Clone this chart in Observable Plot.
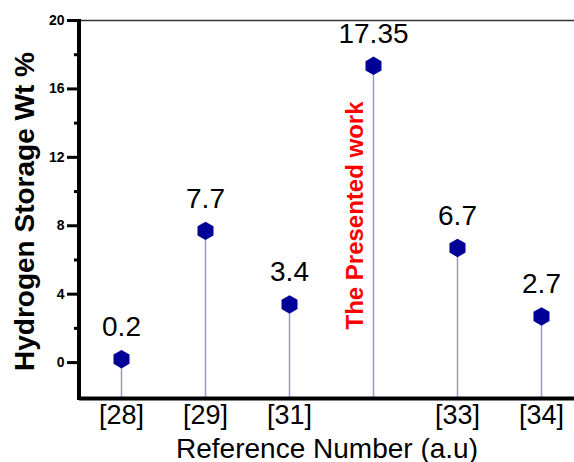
<!DOCTYPE html>
<html>
<head>
<meta charset="utf-8">
<script src="https://cdn.jsdelivr.net/npm/d3@7"></script>
<script src="https://cdn.jsdelivr.net/npm/@observablehq/plot@0.6"></script>
<style>
  html, body { margin: 0; padding: 0; background: #fff; overflow: hidden; }
  svg { display: block; }
</style>
</head>
<body>
<div id="chart"></div>
<script>
const categories = ["[28]", "[29]", "[31]", "Present", "[33]", "[34]"];
const values = [0.2, 7.7, 3.4, 17.35, 6.7, 2.7];
const valueLabels = ["0.2", "7.7", "3.4", "17.35", "6.7", "2.7"];
const xTickLabels = ["[28]", "[29]", "[31]", "[33]", "[34]"];
const yMajorTicks = [0, 4, 8, 12, 16, 20];
const yMinorTicks = [2, 6, 10, 14, 18];
const yDomain = [-2.1, 20];
const annotation = [{x: "Present", y: 8.6, text: "The Presented work"}];
const xTitle = "Reference Number (a.u)";
const yTitle = "Hydrogen Storage Wt %";

const data = categories.map((c, i) => ({cat: c, value: values[i], label: valueLabels[i]}));
const font = "Liberation Sans, Arial, Helvetica, sans-serif";

// left axis line drawn along the frame's left edge, using the plot's dimensions
function leftAxisLine(index, scales, values, dimensions) {
  const {marginLeft, marginTop, marginBottom, height} = dimensions;
  const line = document.createElementNS("http://www.w3.org/2000/svg", "line");
  line.setAttribute("x1", marginLeft);
  line.setAttribute("x2", marginLeft);
  line.setAttribute("y1", marginTop - 1);
  line.setAttribute("y2", height - marginBottom + 2);
  line.setAttribute("stroke", "#000");
  line.setAttribute("stroke-width", 4);
  return line;
}

const chart = Plot.plot({
  width: 574,
  height: 462,
  marginLeft: 79,
  marginRight: 0,
  marginTop: 20,
  marginBottom: 64,
  style: {fontFamily: font, background: "#fff"},
  x: {type: "point", domain: categories, range: [121, 541], padding: 0},
  y: {domain: yDomain},
  marks: [
    Plot.ruleX(data, {x: "cat", y1: yDomain[0], y2: "value", stroke: "#9a9acc", strokeWidth: 1.5}),
    Plot.ruleY([yDomain[1]], {stroke: "#333", strokeWidth: 1.5}),
    Plot.ruleY([yDomain[0]], {stroke: "#000", strokeWidth: 4}),
    leftAxisLine,
    Plot.axisY(yMajorTicks, {tickSize: 12, tickPadding: 3, strokeWidth: 3, fontSize: 14, fontWeight: "bold", fill: "#000", stroke: "#000", label: null}),
    Plot.axisY(yMinorTicks, {tickSize: 5, strokeWidth: 3, stroke: "#000", tickFormat: () => "", label: null}),
    Plot.axisX(xTickLabels, {tickSize: 0, tickPadding: 6, fontSize: 27, fill: "#000", label: null}),
    Plot.dot(data, {x: "cat", y: "value", symbol: "hexagon", r: 8, fill: "#000099"}),
    Plot.text(data, {x: "cat", y: "value", text: "label", dy: -32, fontSize: 28, fill: "#000"}),
    Plot.text(annotation, {x: "x", y: "y", text: "text", rotate: -90, dx: -18, fontSize: 24, fontWeight: "bold", fill: "#ff0000"}),
    Plot.text([xTitle], {frameAnchor: "bottom", textAnchor: "middle", dy: 59, fontSize: 28, fill: "#000"}),
    Plot.text([yTitle], {frameAnchor: "left", textAnchor: "middle", rotate: -90, dx: -54, dy: 2, fontSize: 28, fontWeight: "bold", fill: "#000"})
  ]
});
document.getElementById("chart").appendChild(chart);
</script>
</body>
</html>
